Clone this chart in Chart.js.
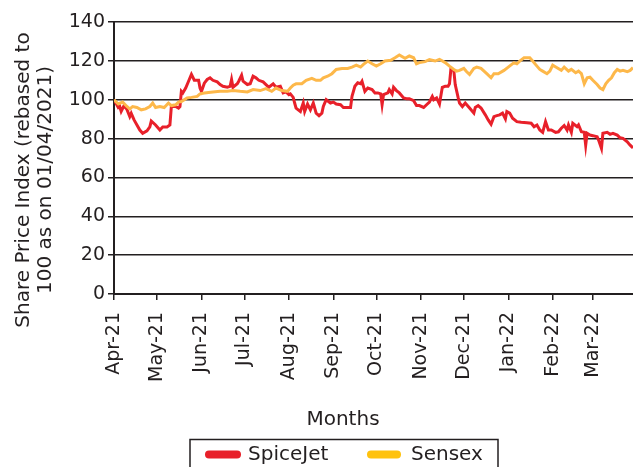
<!DOCTYPE html>
<html>
<head>
<meta charset="utf-8">
<script src="https://cdn.jsdelivr.net/npm/chart.js@4"></script>
<style>
  body { margin: 0; background: #fff; }
  #wrap { position: relative; width: 633px; height: 467px; }
</style>
</head>
<body>
<div id="wrap"><canvas id="shareChart"></canvas></div>
<script>
// month ticks: days counted from 01/04/2021
const monthLabels = ['Apr-21', 'May-21', 'Jun-21', 'Jul-21', 'Aug-21', 'Sep-21',
  'Oct-21', 'Nov-21', 'Dec-21', 'Jan-22', 'Feb-22', 'Mar-22'];
const monthStartDays = [0, 30, 61, 91, 122, 153, 183, 214, 244, 275, 306, 334];

const yTicks = [0, 20, 40, 60, 80, 100, 120, 140];

const spicejetDays = [0, 3, 4, 5, 7, 9, 11, 12, 14, 16, 18, 20, 23, 25, 26, 29, 32, 34, 37, 39,
  40, 43, 45, 46, 47, 48, 50, 52, 54, 56, 59, 60, 61, 63, 65, 67, 69, 72, 74, 76,
  79, 81, 82, 83, 86, 87, 89, 90, 93, 95, 97, 99, 101, 104, 106, 108, 111, 113, 116, 118,
  120, 122, 123, 125, 126, 127, 130, 132, 133, 135, 137, 139, 141, 143, 145, 146, 148, 151, 153, 155,
  158, 160, 162, 165, 166, 167, 168, 170, 172, 173, 175, 177, 180, 182, 184, 186, 187, 188, 191, 192,
  194, 195, 197, 199, 202, 204, 206, 209, 211, 213, 216, 218, 220, 222, 223, 225, 227, 229, 231, 233,
  234, 235, 237, 238, 240, 241, 243, 245, 248, 251, 252, 254, 256, 259, 261, 263, 265, 267, 269, 271,
  273, 274, 276, 278, 281, 284, 288, 291, 293, 295, 297, 299, 301, 303, 305, 308, 310, 312, 314, 316,
  317, 319, 320, 323, 324, 326, 328, 329, 330, 332, 334, 337, 338, 340, 341, 344, 346, 348, 351, 353,
  355, 358, 360, 362];
const spicejetValues = [100, 96, 96.5, 94, 97, 95, 91.3, 93, 89.6, 87, 84.4, 82.7, 84, 86, 89, 87, 84.4, 86, 86, 87,
  96.5, 96.5, 95.7, 96.5, 104.3, 103.5, 106, 109.5, 113, 110, 110, 106, 104.3, 108.5, 110.4, 111.3, 110, 109.2, 107.8, 106.9,
  106.4, 106.9, 110.4, 106.4, 108.2, 109.5, 112.6, 109.5, 107.8, 108.2, 112.1, 111.3, 110, 109.2, 107.8, 106.4, 108.2, 106.4, 106.9, 103.5,
  104, 102.6, 103, 101.2, 98.3, 95.7, 93.9, 98.3, 93.9, 97.8, 94.8, 98.3, 93.1, 91.8, 93.1, 96.5, 100, 98.3, 98.8, 97.8,
  97.4, 96, 96, 96, 101.7, 104.3, 106.9, 108.7, 108.2, 109.5, 104.3, 106, 105.2, 103.5, 103.5, 103, 97.4, 102.6, 103.5, 105.2,
  103, 106.4, 104.7, 103.5, 100.9, 100.5, 100.5, 99.5, 97, 97, 96, 97.4, 98.8, 101.7, 100, 100.9, 97.8, 106.4, 106.9, 106.9,
  108.2, 115.8, 115.2, 107.8, 101.2, 98.3, 96.5, 98.3, 95.7, 93.1, 96, 97, 95.7, 92.2, 89.6, 87.4, 91.3, 91.8, 92.2, 93.1,
  90.1, 93.9, 93.1, 90.5, 88.7, 88.4, 88.2, 87.9, 86.1, 87, 84.4, 83.2, 88.7, 84.4, 84.4, 83.2, 83.5, 85.3, 86.7, 84.4,
  87, 83.2, 87.9, 86.1, 87, 83.5, 83.2, 76.6, 82.7, 81.8, 81.5, 80.9, 79.2, 74.9, 82.7, 83.2, 82.2, 82.7, 81.8, 80.4,
  80.1, 78.3, 76.6, 75.2];

const sensexDays = [0, 3, 6, 9, 11, 13, 16, 19, 22, 25, 27, 29, 32, 35, 38, 40, 43, 45, 47, 51,
  54, 58, 60, 63, 69, 74, 79, 83, 88, 93, 97, 102, 106, 110, 113, 117, 121, 123, 125, 127,
  131, 134, 138, 141, 144, 146, 149, 152, 155, 159, 163, 166, 169, 172, 174, 177, 180, 183, 186, 189,
  193, 196, 199, 203, 206, 209, 211, 213, 217, 220, 224, 227, 231, 234, 237, 239, 241, 244, 246, 248,
  251, 253, 256, 260, 263, 265, 268, 272, 275, 279, 281, 283, 286, 290, 292, 295, 297, 299, 302, 304,
  306, 309, 312, 314, 317, 319, 322, 324, 326, 328, 330, 332, 334, 337, 339, 341, 343, 345, 347, 349,
  351, 353, 355, 358, 360, 362];
const sensexValues = [100, 97.8, 98.8, 96.5, 95.3, 96.5, 96, 94.8, 95.3, 96.5, 98.3, 96, 96.5, 96, 98.3, 97, 97.4, 98.8, 99.1, 100.9,
  101.2, 101.7, 103, 103.5, 104, 104.3, 104.3, 104.7, 104.3, 104, 105.2, 104.7, 105.7, 104.3, 106, 104.7, 104.3, 106, 107.5, 108.2,
  108.2, 110, 111, 110, 110, 111.3, 112.1, 113.4, 115.6, 116.1, 116.1, 116.8, 117.8, 116.8, 118.2, 119.9, 118.5, 117.3, 118.5, 119.9,
  120.3, 121.6, 123, 121.3, 122.5, 121.6, 118.5, 119.1, 119.6, 120.6, 119.9, 120.8, 119.1, 117.3, 115.6, 114.7, 115.1, 116.1, 114.4, 113,
  116.1, 116.8, 116.1, 113.4, 111.3, 113.4, 113.4, 115.1, 116.8, 119.1, 118.5, 119.9, 121.6, 121.6, 119.9, 117.3, 115.6, 114.7, 113.4, 114.7,
  117.8, 116.5, 115.1, 116.8, 114.7, 115.6, 113.9, 114.7, 113.4, 108.2, 111.3, 111.6, 110, 107.8, 106, 105.2, 108.2, 110, 111.3, 113.9,
  115.6, 114.7, 115.1, 114.4, 115.1, 116.5];

const spicejetColor = '#E8202A';
const sensexColor = '#FDB84A';
const sensexKeyColor = '#FFC20E';
const textColor = '#231F20';
const fontFamily = 'DejaVu Sans';

function toPoints(days, values) {
  return days.map((d, i) => ({ x: d, y: values[i] }));
}

// axis titles and the boxed legend, placed like in the source figure
const extraText = {
  id: 'extraText',
  afterDraw(chart) {
    const ctx = chart.ctx;
    ctx.save();
    ctx.fillStyle = textColor;
    ctx.font = '20px ' + fontFamily;
    ctx.textAlign = 'center';
    ctx.textBaseline = 'middle';

    ctx.save();
    ctx.translate(24, 180);
    ctx.rotate(-Math.PI / 2);
    ctx.fillText('Share Price Index (rebased to', 0, 0);
    ctx.restore();
    ctx.save();
    ctx.translate(46, 180);
    ctx.rotate(-Math.PI / 2);
    ctx.fillText('100 as on 01/04/2021)', 0, 0);
    ctx.restore();

    ctx.fillText('Months', 343, 420);

    ctx.lineWidth = 1.5;
    ctx.strokeStyle = textColor;
    ctx.strokeRect(190, 439.5, 308, 40);

    ctx.lineCap = 'round';
    ctx.lineWidth = 8;
    ctx.strokeStyle = spicejetColor;
    ctx.beginPath();
    ctx.moveTo(209, 454.5);
    ctx.lineTo(237, 454.5);
    ctx.stroke();
    ctx.strokeStyle = sensexKeyColor;
    ctx.beginPath();
    ctx.moveTo(371, 454.5);
    ctx.lineTo(397, 454.5);
    ctx.stroke();

    ctx.textAlign = 'left';
    ctx.fillText('SpiceJet', 248, 455);
    ctx.fillText('Sensex', 411, 455);
    ctx.restore();
  },
};

new Chart(document.getElementById('shareChart'), {
  type: 'line',
  data: {
    datasets: [
      {
        label: 'SpiceJet',
        data: toPoints(spicejetDays, spicejetValues),
        borderColor: spicejetColor,
        borderWidth: 3,
        pointRadius: 0,
        tension: 0,
        order: 2,
      },
      {
        label: 'Sensex',
        data: toPoints(sensexDays, sensexValues),
        borderColor: sensexColor,
        borderWidth: 3,
        pointRadius: 0,
        tension: 0,
        order: 1,
      },
    ],
  },
  options: {
    responsive: true,
    maintainAspectRatio: false,
    animation: false,
    layout: {
      padding: { top: 22, right: 0, left: 0, bottom: 0 },
    },
    plugins: {
      legend: { display: false },
      tooltip: { enabled: false },
    },
    scales: {
      x: {
        type: 'linear',
        min: 0,
        max: 362,
        afterBuildTicks: (scale) => {
          scale.ticks = monthStartDays.map((d) => ({ value: d }));
        },
        afterFit: (scale) => {
          scale.height = 173;
        },
        ticks: {
          autoSkip: false,
          minRotation: 90,
          maxRotation: 90,
          padding: 12,
          color: textColor,
          font: { family: fontFamily, size: 19 },
          callback: (value) => monthLabels[monthStartDays.indexOf(value)],
        },
        grid: {
          drawOnChartArea: false,
          drawTicks: true,
          tickLength: 6,
          color: textColor,
          lineWidth: 1.5,
        },
        border: { display: true, color: textColor, width: 2 },
      },
      y: {
        min: 0,
        max: 140,
        afterBuildTicks: (scale) => {
          scale.ticks = yTicks.map((v) => ({ value: v }));
        },
        afterFit: (scale) => {
          scale.width = 114;
        },
        ticks: {
          padding: 3,
          color: textColor,
          font: { family: fontFamily, size: 19 },
        },
        grid: {
          color: textColor,
          lineWidth: 1.5,
          tickLength: 6,
        },
        border: { display: true, color: textColor, width: 2 },
      },
    },
  },
  plugins: [extraText],
});
</script>
</body>
</html>
